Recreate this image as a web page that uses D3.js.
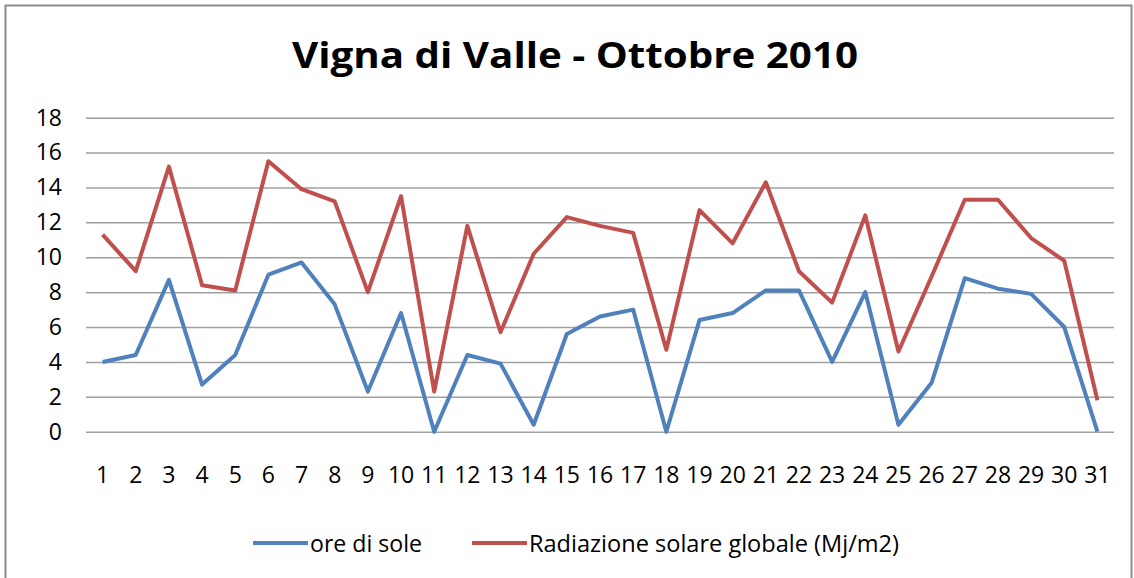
<!DOCTYPE html>
<html>
<head>
<meta charset="utf-8">
<script src="https://cdn.jsdelivr.net/npm/d3@7"></script>
<style>
  body { margin: 0; background: #fff; }
  text { font-family: "Open Sans", "Noto Sans", sans-serif; fill: #000; }
</style>
</head>
<body>
<svg id="chart" width="1134" height="578"></svg>
<script>
// chart data
var days = d3.range(1, 32);
var oreDiSole = [4.0, 4.4, 8.7, 2.7, 4.4, 9.0, 9.7, 7.3, 2.3, 6.8,
                 0, 4.4, 3.9, 0.4, 5.6, 6.6, 7.0, 0, 6.4, 6.8,
                 8.1, 8.1, 4.0, 8.0, 0.4, 2.8, 8.8, 8.2, 7.9, 6.0, 0];
var radiazione = [11.3, 9.2, 15.2, 8.4, 8.1, 15.5, 13.9, 13.2, 8.0, 13.5,
                  2.3, 11.8, 5.7, 10.2, 12.3, 11.8, 11.4, 4.7, 12.7, 10.8,
                  14.3, 9.2, 7.4, 12.4, 4.6, 8.9, 13.3, 13.3, 11.1, 9.8, 1.8];
var yTicks = [0, 2, 4, 6, 8, 10, 12, 14, 16, 18];
var seriesNames = ["ore di sole", "Radiazione solare globale (Mj/m2)"];
var seriesColors = ["#4F81BD", "#C0504D"];

var svg = d3.select("#chart");

// outer frame (bottom edge falls outside the picture)
svg.append("rect")
    .attr("x", 5.5).attr("y", 5.5)
    .attr("width", 1126).attr("height", 600)
    .attr("fill", "none")
    .attr("stroke", "#8c8c8c")
    .attr("stroke-width", 2);

var plot = { left: 86, right: 1114, top: 117.7, bottom: 431.7 };

var x = d3.scaleBand()
    .domain(days)
    .range([plot.left, plot.right]);

var y = d3.scaleLinear()
    .domain([0, 18])
    .range([plot.bottom, plot.top]);

// title
svg.append("text")
    .attr("x", 575).attr("y", 68)
    .attr("text-anchor", "middle")
    .attr("font-size", 35)
    .attr("font-weight", "bold")
    .attr("textLength", 566)
    .attr("lengthAdjust", "spacingAndGlyphs")
    .text("Vigna di Valle - Ottobre 2010");

// horizontal gridlines + y labels
var yAxis = d3.axisLeft(y)
    .tickValues(yTicks)
    .tickSize(-(plot.right - plot.left))
    .tickPadding(24);

var gy = svg.append("g")
    .attr("transform", "translate(" + plot.left + ",0)")
    .call(yAxis);
gy.select(".domain").remove();
gy.selectAll(".tick line").attr("stroke", "#a0a0a0").attr("stroke-width", 1.5);
gy.selectAll(".tick text")
    .attr("font-size", 23)
    .attr("fill", "#000")
    .style("font-family", "'Open Sans', sans-serif");

// x labels
var xAxis = d3.axisBottom(x).tickSize(0).tickPadding(35);
var gx = svg.append("g")
    .attr("transform", "translate(0," + plot.bottom + ")")
    .call(xAxis);
gx.select(".domain").remove();
gx.selectAll(".tick text")
    .attr("font-size", 23)
    .attr("fill", "#000")
    .style("font-family", "'Open Sans', sans-serif");

// lines
var line = d3.line()
    .x(function(d, i) { return x(days[i]) + x.bandwidth() / 2; })
    .y(function(d) { return y(d); });

[oreDiSole, radiazione].forEach(function(values, k) {
    svg.append("path")
        .datum(values)
        .attr("d", line)
        .attr("fill", "none")
        .attr("stroke", seriesColors[k])
        .attr("stroke-width", 4)
        .attr("stroke-linejoin", "round");
});

// legend
var legendX = [253, 472];
var legendTextW = [112, 370];
var legend = svg.append("g").selectAll("g")
    .data(seriesNames).enter()
    .append("g")
    .attr("transform", function(d, i) { return "translate(" + legendX[i] + ",543)"; });

legend.append("line")
    .attr("x1", 0).attr("x2", 55)
    .attr("stroke", function(d, i) { return seriesColors[i]; })
    .attr("stroke-width", 4);

legend.append("text")
    .attr("x", 57).attr("y", 8.5)
    .attr("font-size", 23)
    .attr("fill", "#222")
    .attr("textLength", function(d, i) { return legendTextW[i]; })
    .attr("lengthAdjust", "spacingAndGlyphs")
    .text(function(d) { return d; });
</script>
</body>
</html>
